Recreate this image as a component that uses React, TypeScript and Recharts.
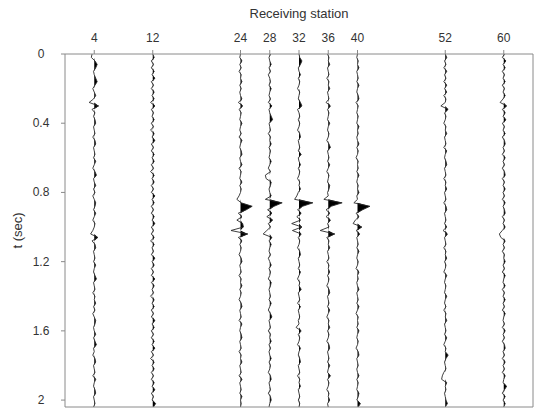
import React from "react"
import { ComposedChart, Line, Area, XAxis, YAxis } from "recharts"

const STATIONS = [4, 12, 24, 28, 32, 36, 40, 52, 60]
const T_TICKS = [0, 0.4, 0.8, 1.2, 1.6, 2]
const DT = 0.02

// trace amplitudes in tenths of a station spacing, one sample every DT sec
const AMP_4 = [
  -3, -4, 1, 4, 2, -1, 0, 2, 4, 1,
  -2, 0, 2, -1, -7, 6, -3, 1, -1, 1,
  2, -1, 0, 1, -2, 1, 2, -1, 0, 1,
  -1, 2, 0, -2, 1, 3, -1, 0, 2, -1,
  1, -2, 0, 2, 1, -1, 2, 0, -2, 1,
  0, -2, -5, 5, -3, 1, 2, -1, 0, 1,
  -1, 2, 0, -1, 1, 3, -1, 0, 1, -2,
  1, 0, 2, -1, 1, -2, 0, 2, 1, -1,
  0, 2, -1, 1, 3, -1, 0, -2, 1, 2,
  -1, 0, 1, -2, 2, 0, -1, 1, 2, -1,
  0, 1, -1,
]
const AMP_12 = [
  0, 2, -2, 1, -2, 2, -1, 3, -2, 1,
  -2, 2, -1, 2, -3, 3, -2, 1, -1, 2,
  -2, 1, -3, 2, -1, 3, -2, 1, -2, 2,
  -1, 2, -2, 1, -3, 2, -1, 2, -2, 1,
  -2, 3, -1, 2, -2, 1, -2, 2, -1, 3,
  -2, 1, -2, 2, -3, 2, -1, 1, -2, 3,
  -1, 2, -2, 1, -2, 3, -2, 2, -1, 1,
  -3, 2, -1, 2, -2, 1, -2, 3, -1, 2,
  -2, 1, -2, 2, -1, 3, -2, 1, -3, 2,
  -1, 2, -2, 1, -2, 2, -1, 3, -2, 1,
  -1, 4, 1,
]
const AMP_24 = [
  0, -1, 2, -1, 1, -2, 1, 0, 2, -1,
  1, -1, 0, 2, -3, 3, -2, 1, 0, -1,
  2, 0, -1, 1, -2, 2, 0, -1, 1, 2,
  -1, 0, 2, -2, 1, 0, -1, 2, -1, 1,
  0, -2, -5, 1, 16, 8, -3, 2, -5, 3,
  4, -13, 10, -3, 2, -1, 1, 0, -2, 1,
  2, -1, 0, 1, -2, 1, 0, 2, -1, 1,
  0, -2, 1, 2, -1, 0, 1, -2, 2, 0,
  -1, 1, 2, -1, 0, 1, -2, 1, 0, 2,
  -1, 0, 1, -2, 2, -1, 0, 1, -1, 2,
  0, 1, 0,
]
const AMP_28 = [
  1, -1, 0, 2, -1, 1, -2, 0, 1, -1,
  2, 0, -1, 1, -2, 3, -1, 0, 2, 4,
  -1, 0, 1, -2, 1, 0, 2, -1, 1, 0,
  -1, 2, 0, -2, 1, -6, -5, 2, 1, -1,
  0, 2, -6, 17, 6, -3, 3, -4, 4, -2,
  1, -4, -9, 3, -1, 2, 0, -1, 1, -2,
  0, 2, -1, 1, 0, -2, 2, 1, -1, 0,
  1, -1, 2, 0, -2, 1, 3, -1, 0, 1,
  -2, 1, 0, 2, -1, 1, -1, 0, 2, -1,
  1, 0, -2, 1, 2, -1, 0, 1, -2, 1,
  2, 0, -1,
]
const AMP_32 = [
  0, 1, 4, 2, -1, 0, 2, -1, 1, 0,
  -2, 1, 0, -1, 2, 4, -2, 0, 1, -1,
  1, 0, -2, 1, 2, -1, 0, 1, -1, 3,
  -1, 0, 2, -1, 1, 0, -2, 1, 0, 2,
  -1, -3, -6, 19, 5, -2, 3, -3, 2, -10,
  4, -9, 3, -1, 1, 0, -2, 1, 2, -1,
  0, 1, -1, 2, 0, -2, 1, 0, 3, -1,
  0, 1, -2, 2, -1, 0, 1, -1, 0, -4,
  3, -1, 1, 0, -2, 2, 0, -1, 1, 2,
  -1, 0, 1, -2, 1, 0, 2, -1, 0, 1,
  -1, 1, 0,
]
const AMP_36 = [
  -1, 1, 0, 2, -1, 0, 1, -2, 1, 0,
  2, -1, 0, 1, -3, 3, -1, 1, 0, -1,
  2, 0, -1, 1, 0, -2, 1, 3, -1, 0,
  1, -1, 2, 0, -2, 1, 0, -1, 2, 1,
  -1, 0, -6, 19, 4, -3, 2, -3, 3, -1,
  1, -11, 9, -2, 1, 0, 2, -1, 0, 1,
  -2, 1, 0, 2, -1, 1, 0, -2, 1, 2,
  -1, 0, 1, -1, 2, 0, -2, 1, 0, 2,
  -1, 1, 0, -2, 1, 2, -1, 0, 1, -1,
  2, 0, -1, 3, -1, 1, 0, -2, 1, 0,
  2, -1, 0,
]
const AMP_40 = [
  0, -1, 1, 0, 2, -1, 0, 1, -1, 2,
  0, -1, 1, 2, -2, 1, 0, -1, 1, 0,
  -1, 2, 0, 1, -1, 0, 2, -1, 1, 0,
  -2, 1, 0, 1, -1, 2, 0, -1, 1, 0,
  2, -1, 0, -5, 17, 7, -2, 2, -3, -6,
  6, -2, 3, -1, 0, 1, -1, 2, 0, -1,
  1, 0, -2, 2, 0, 1, -1, 0, 2, -1,
  0, 1, -1, 2, 0, -2, 1, 0, 1, -1,
  2, 0, -1, 1, 0, -2, 1, 2, -1, 0,
  1, -1, 0, 2, -1, 1, 0, -1, 2, 1,
  -1, 4, 1,
]
const AMP_52 = [
  0, 2, -1, 1, -2, 2, -1, 1, -2, 2,
  -1, 2, -2, 1, 0, -6, 4, -1, 1, 0,
  -2, 1, 0, 2, -1, 0, 1, -2, 2, 0,
  -1, 1, 2, -1, 0, 1, -2, 1, 0, 2,
  -1, 0, 1, -2, 1, 2, -1, 0, 1, -1,
  2, -3, 3, -1, 0, 1, -2, 1, 0, 2,
  -1, 1, 0, -2, 2, 0, -1, 1, 0, -1,
  2, 0, -1, 1, -2, 1, 0, 2, -1, 0,
  1, -1, 2, 0, -2, 1, 0, 4, 1, -1,
  0, 1, -2, -4, -5, 2, 0, 1, -1, 0,
  1, 3, 0,
]
const AMP_60 = [
  1, -2, 3, -1, 2, -2, 1, -1, 2, -2,
  1, -1, 2, -1, -5, 4, -2, 2, -1, 3,
  -2, 1, -1, 2, -2, 1, 2, -1, 1, -2,
  2, -1, 1, -2, 1, 2, -2, 1, -1, 2,
  -1, 1, -2, 2, -1, 1, 2, -2, 1, -1,
  2, -2, -6, -4, 2, -1, 1, -2, 1, 0,
  2, -1, 1, -2, 2, 0, -1, 2, -2, 1,
  -1, 2, -1, 1, -2, 2, 0, -1, 1, -2,
  2, -1, 1, -2, 1, 2, -1, 1, -2, 2,
  -1, 1, -2, 2, 0, -1, 4, 1, -2, 2,
  -1, 2, 0,
]

const TRACES = [
  { station: 4, amp: AMP_4 },
  { station: 12, amp: AMP_12 },
  { station: 24, amp: AMP_24 },
  { station: 28, amp: AMP_28 },
  { station: 32, amp: AMP_32 },
  { station: 36, amp: AMP_36 },
  { station: 40, amp: AMP_40 },
  { station: 52, amp: AMP_52 },
  { station: 60, amp: AMP_60 },
]

const data = AMP_4.map((_, i) => {
  const row: Record<string, number> = { t: +(i * DT).toFixed(2) }
  TRACES.forEach(({ station, amp }) => {
    row[`s${station}`] = station + amp[i] / 10
    // positive lobes only, for the black variable-area fill
    row[`f${station}`] = station + Math.max(0, amp[i]) / 10
  })
  return row
})

const AXIS_COLOR = "#8a8a8a"
const TEXT_COLOR = "#333"
const FONT = "'Liberation Sans', Arial, sans-serif"

const LeftTick = (props: any) => {
  const { x, y, payload } = props
  return (
    <text x={x - 18} y={y} textAnchor="middle" dominantBaseline="central" fill={TEXT_COLOR} fontSize={12} fontFamily={FONT}>
      {payload.value}
    </text>
  )
}

const YTitle = (props: any) => {
  const { viewBox } = props
  const cx = viewBox.x + 17
  const cy = viewBox.y + viewBox.height / 2
  return (
    <text x={cx} y={cy} transform={`rotate(-90 ${cx} ${cy})`} textAnchor="middle" dominantBaseline="central" fill={TEXT_COLOR} fontSize={13} fontFamily={FONT}>
      t (sec)
    </text>
  )
}

export default function App() {
  return (
    <div style={{ position: "absolute", left: 0, top: 0, width: 543, height: 418, background: "#fff" }}>
      <ComposedChart
        layout="vertical"
        width={543}
        height={418}
        data={data}
        margin={{ top: 0, right: 0, bottom: 0, left: 0 }}
      >
        <XAxis
          xAxisId="top"
          orientation="top"
          type="number"
          domain={[0, 64]}
          allowDataOverflow
          ticks={STATIONS}
          interval={0}
          height={54}
          tickSize={4}
          tickMargin={8}
          stroke={AXIS_COLOR}
          tick={{ fill: TEXT_COLOR, fontSize: 12, fontFamily: FONT }}
          label={{ value: "Receiving station", position: "insideTop", offset: 9, fill: TEXT_COLOR, fontSize: 13, fontFamily: FONT }}
        />
        <XAxis
          xAxisId="bottom"
          orientation="bottom"
          type="number"
          domain={[0, 64]}
          allowDataOverflow
          ticks={STATIONS}
          interval={0}
          height={11}
          tickSize={4}
          tick={false}
          stroke={AXIS_COLOR}
        />
        <YAxis
          yAxisId="left"
          type="number"
          dataKey="t"
          domain={[0, 2.04]}
          allowDataOverflow
          ticks={T_TICKS}
          interval={0}
          width={65}
          tickSize={4}
          tickMargin={2}
          stroke={AXIS_COLOR}
          tick={<LeftTick />}
          label={<YTitle />}
        />
        <YAxis
          yAxisId="right"
          orientation="right"
          type="number"
          domain={[0, 2.04]}
          allowDataOverflow
          ticks={T_TICKS}
          interval={0}
          width={10}
          tickSize={5}
          tick={false}
          stroke={AXIS_COLOR}
        />
        {TRACES.map(({ station }) => (
          <Area
            key={`f${station}`}
            xAxisId="top"
            yAxisId="left"
            dataKey={`f${station}`}
            baseValue={station}
            type="linear"
            stroke="none"
            fill="#000"
            fillOpacity={1}
            isAnimationActive={false}
          />
        ))}
        {TRACES.map(({ station }) => (
          <Line
            key={`s${station}`}
            xAxisId="top"
            yAxisId="left"
            dataKey={`s${station}`}
            type="linear"
            stroke="#2a2a2a"
            strokeWidth={0.9}
            dot={false}
            activeDot={false}
            isAnimationActive={false}
          />
        ))}
      </ComposedChart>
    </div>
  )
}
